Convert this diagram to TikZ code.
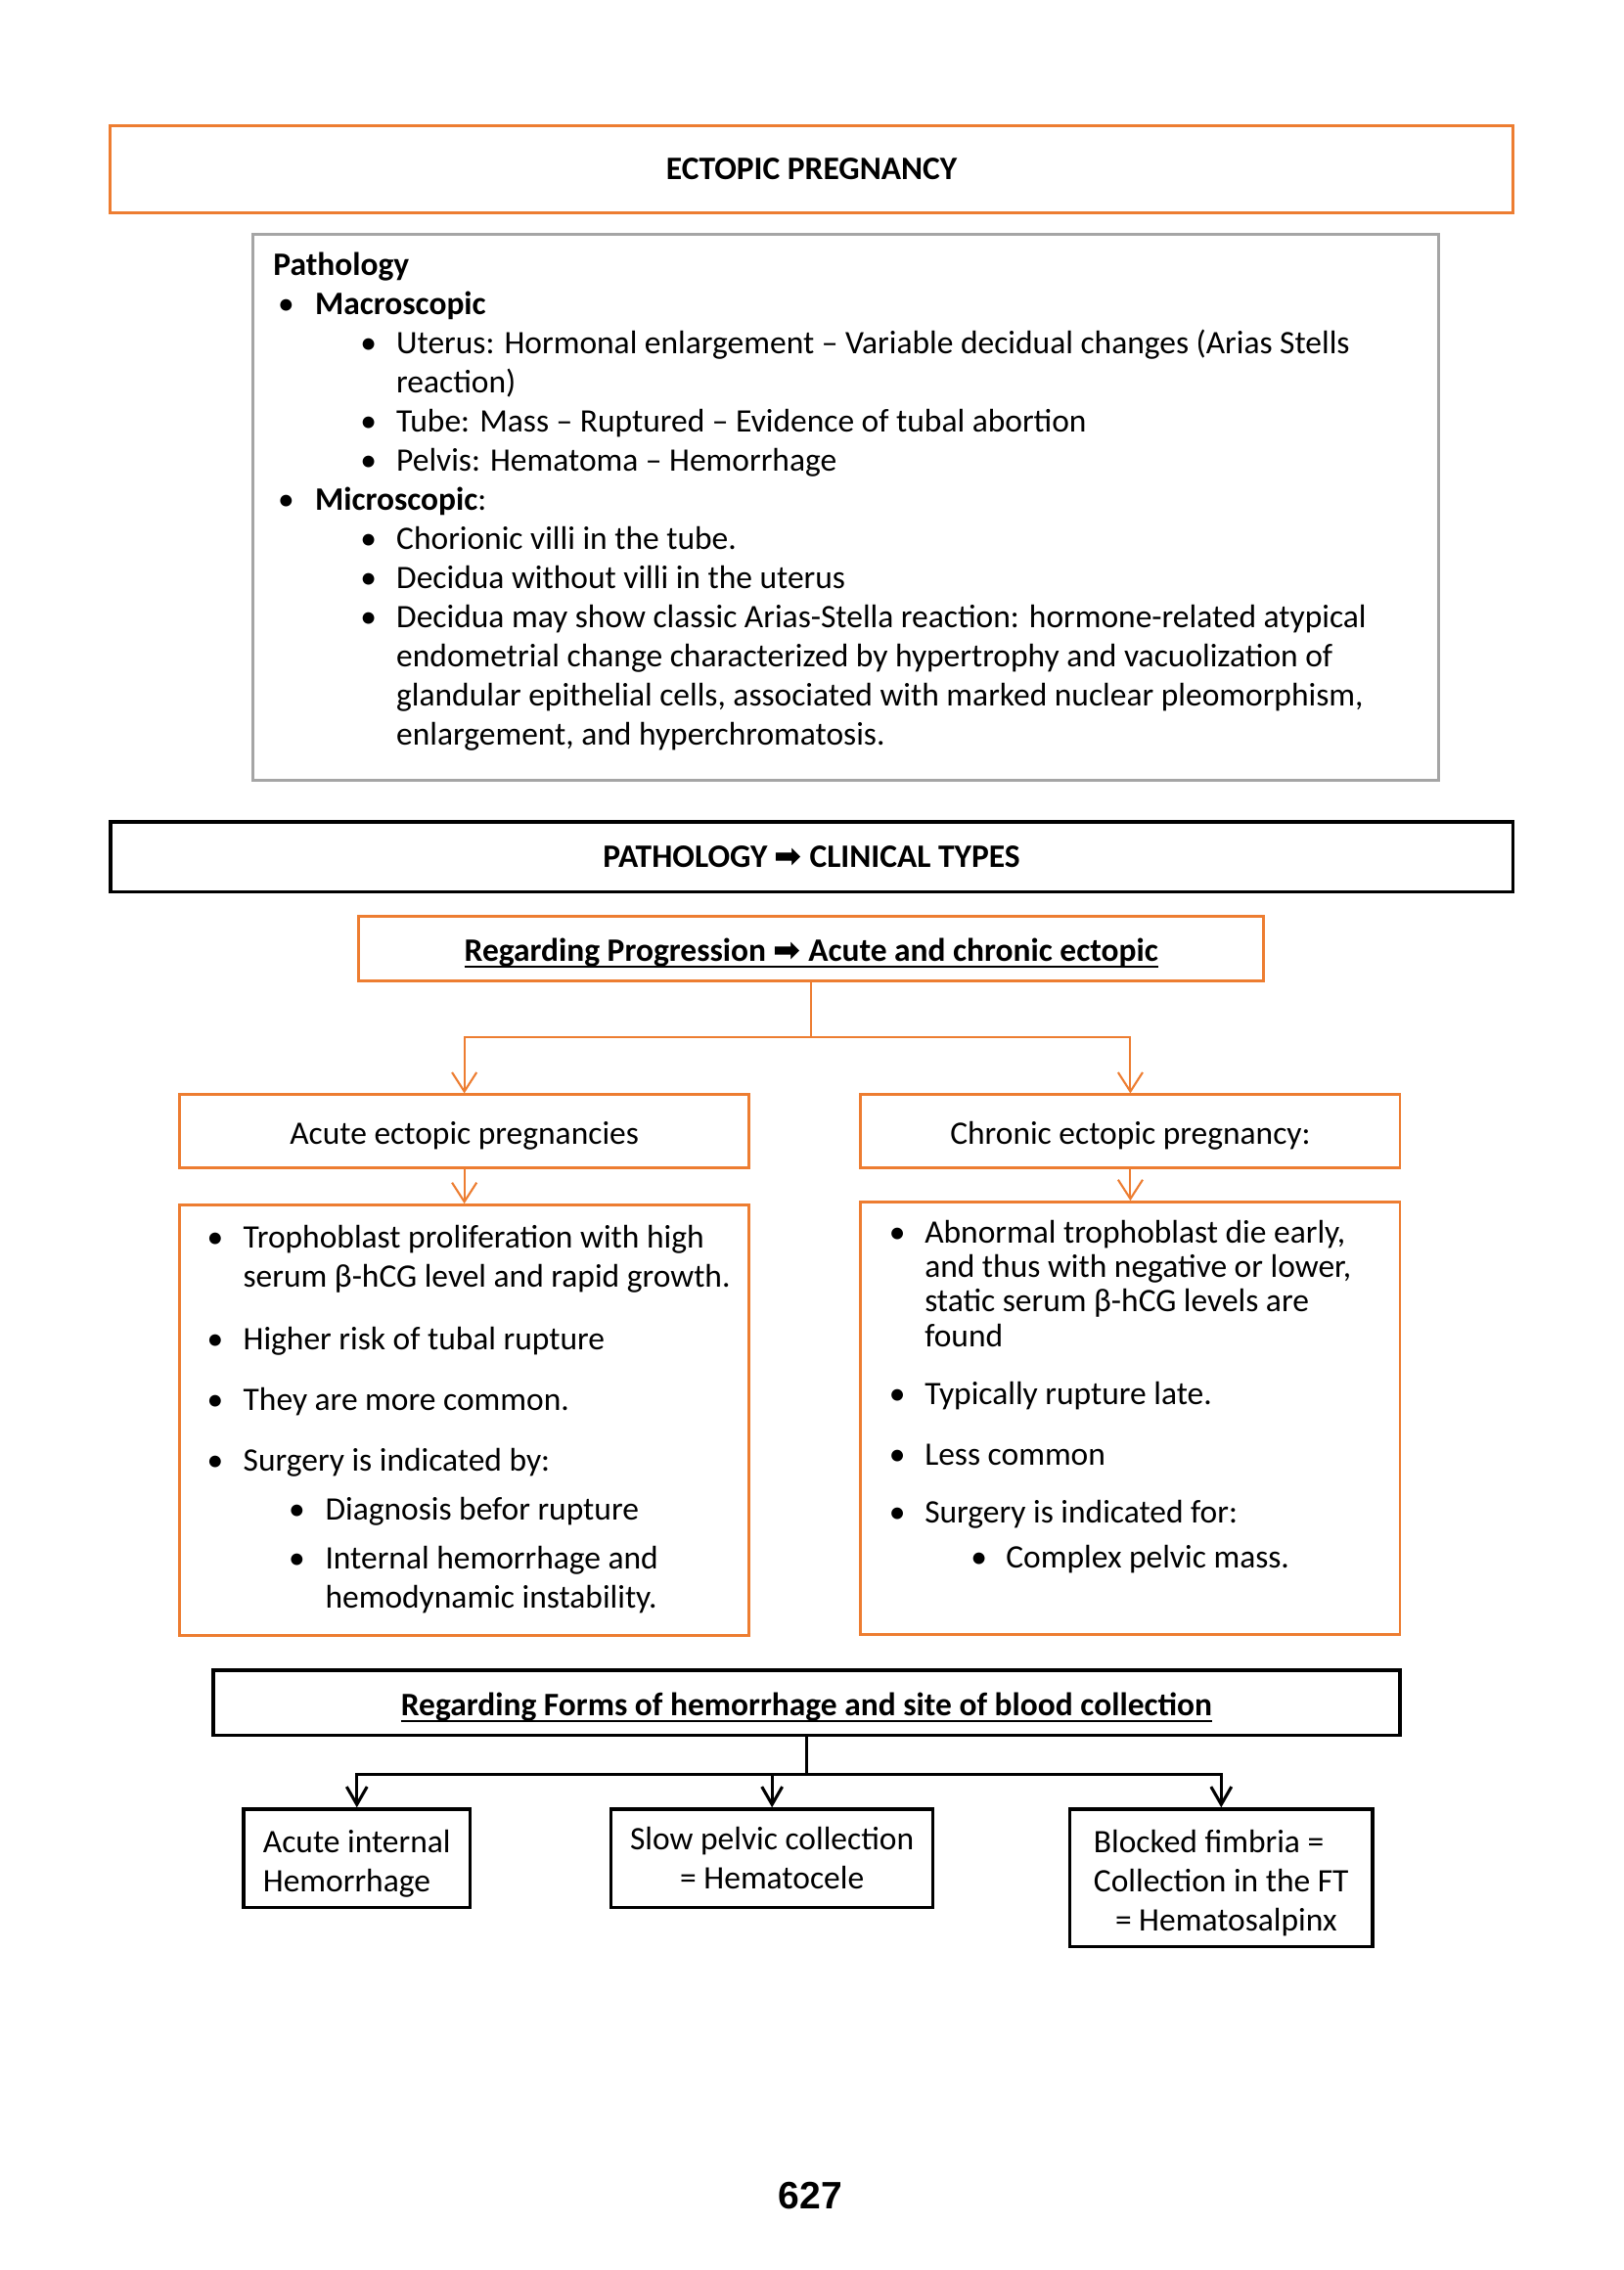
\documentclass[tikz,border=0pt]{standalone}
\usepackage{fontspec}
\setmainfont{Carlito}
\newfontfamily\arrowfont{DejaVu Sans}
\newfontfamily\numfont{Liberation Sans}
\usetikzlibrary{arrows.meta}
\definecolor{boxorange}{HTML}{ED7D31}
\definecolor{boxgray}{HTML}{A5A5A5}
\newdimen\pxu \pxu=0.5294pt
\newcommand{\bodysize}{\fontsize{12}{14.34}\selectfont}
\newcommand{\ulword}[1]{\setbox0\hbox{#1}\rlap{\rule[-2.2pt]{\wd0}{0.7pt}}\box0}
\tikzset{
  obox/.style={draw=boxorange, line width=1.07pt, inner sep=0pt, align=center, font=\bodysize},
  kbox/.style={draw=black, line width=1.2pt, inner sep=0pt, align=center, font=\bodysize},
  gbox/.style={draw=boxgray, line width=1.07pt, inner sep=0pt},
  low/.style={text height=11pt, text depth=1.5pt},
  txt/.style={anchor=base west, inner sep=0pt, align=left, font=\bodysize},
  bul/.style={anchor=base west, inner sep=0pt, font=\bodysize},
  oline/.style={draw=boxorange, line width=0.75pt},
  oarr/.style={oline, -{Straight Barb[length=7pt,width=9pt]}},
  kline/.style={draw=black, line width=1.1pt},
  karr/.style={kline, -{Straight Barb[length=6.5pt,width=7.5pt]}},
}

\begin{document}
\begin{tikzpicture}[x=0.5294pt,y=-0.5294pt]
  \path[fill=white,use as bounding box] (0,0) rectangle (1124,1571);

  % title and pathology box (multi-line nodes sit on their last baseline)
  \node[obox, minimum width=970.5\pxu, minimum height=60.9\pxu, font=\bodysize\bfseries] (title) at (561.75,117.15) {ECTOPIC PREGNANCY};
  \node[gbox, minimum width=821\pxu, minimum height=378\pxu] (gray) at (585.5,351) {};
  \node[txt, font=\bodysize\bfseries] (patho) at (188.8,190.6) {Pathology};
  \foreach \y [count=\i] in {217.7,353.2}
    \node[bul] (gb\i) at (192,\y) {•};
  \foreach \y [count=\i] in {244.8,299,326.1,380.3,407.4,434.5}
    \node[bul] (gs\i) at (249,\y) {•};
  \node[txt] (macro) at (217.7,217.7) {\textbf{Macroscopic}};
  \node[txt] (uterus) at (274,271.9) {Uterus: Hormonal enlargement – Variable decidual changes (Arias Stells\\reaction)};
  \node[txt] (tube) at (274,299) {Tube: Mass – Ruptured – Evidence of tubal abortion};
  \node[txt] (pelvis) at (274,326.1) {Pelvis: Hematoma – Hemorrhage};
  \node[txt] (micro) at (217.7,353.2) {\textbf{Microscopic}:};
  \node[txt] (villi) at (274,380.3) {Chorionic villi in the tube.};
  \node[txt] (decid) at (274,407.4) {Decidua without villi in the uterus};
  \node[txt] (arias) at (274,515.8) {Decidua may show classic Arias-Stella reaction: hormone-related atypical\\endometrial change characterized by hypertrophy and vacuolization of\\glandular epithelial cells, associated with marked nuclear pleomorphism,\\enlargement, and hyperchromatosis.};

  % clinical types
  \node[kbox, minimum width=970.5\pxu, minimum height=48.3\pxu, font=\bodysize\bfseries] (types) at (561.75,592.85) {PATHOLOGY {\arrowfont ➡} CLINICAL TYPES};
  \node[obox, low, minimum width=626\pxu, minimum height=45\pxu, font=\bodysize\bfseries] (prog) at (561.5,656.5) {\ulword{Regarding Progression {\arrowfont ➡} Acute and chronic ectopic}};
  \node[obox, low, minimum width=394\pxu, minimum height=50.3\pxu] (acute) at (321.4,782.85) {Acute ectopic pregnancies};
  \node[obox, low, minimum width=373.2\pxu, minimum height=50.3\pxu] (chronic) at (782.4,782.85) {Chronic ectopic pregnancy:};
  \node[obox, minimum width=394\pxu, minimum height=298\pxu] (acdet) at (321.4,983) {};
  \node[obox, minimum width=373.2\pxu, minimum height=299\pxu] (chdet) at (782.4,981.5) {};
  \coordinate (pj) at (561.5,718);
  \draw[oline] (prog.south) -- (pj);
  \draw[oarr] (pj) -| (acute.north);
  \draw[oarr] (pj) -| (chronic.north);
  \draw[oarr] (acute.south) -- (acdet.north);
  \draw[oarr] (chronic.south) -- (chdet.north);

  % acute list
  \foreach \y [count=\i] in {864,934,976,1018}
    \node[bul] (ab\i) at (143,\y) {•};
  \foreach \y [count=\i] in {1052,1086}
    \node[bul] (as\i) at (199.4,\y) {•};
  \node[txt, font=\fontsize{12}{14.29}\selectfont] (tropho) at (168,891) {Trophoblast proliferation with high\\serum β-hCG level and rapid growth.};
  \node[txt] (risk) at (168,934) {Higher risk of tubal rupture};
  \node[txt] (common) at (168,976) {They are more common.};
  \node[txt] (surga) at (168,1018) {Surgery is indicated by:};
  \node[txt] (diag) at (224.8,1052) {Diagnosis befor rupture};
  \node[txt, font=\fontsize{12}{14.29}\selectfont] (hemo) at (224.8,1113) {Internal hemorrhage and\\hemodynamic instability.};

  % chronic list
  \foreach \y [count=\i] in {860,972,1014,1054}
    \node[bul] (cb\i) at (615,\y) {•};
  \node[bul] (cs1) at (671.6,1085) {•};
  \node[txt, font=\fontsize{12}{12.7}\selectfont] (abn) at (639.7,932) {Abnormal trophoblast die early,\\and thus with negative or lower,\\static serum β-hCG levels are\\found};
  \node[txt] (late) at (639.7,972) {Typically rupture late.};
  \node[txt] (less) at (639.7,1014) {Less common};
  \node[txt] (surgc) at (639.7,1054) {Surgery is indicated for:};
  \node[txt] (mass) at (696,1085) {Complex pelvic mass.};

  % forms of hemorrhage
  \node[kbox, low, minimum width=821.4\pxu, minimum height=45\pxu, font=\bodysize\bfseries] (forms) at (558.3,1178.5) {\ulword{Regarding Forms of hemorrhage and site of blood collection}};
  \node[kbox, align=left, minimum width=157\pxu, minimum height=68\pxu, font=\fontsize{12}{14.3}\selectfont] (aih) at (247,1286) {\rule{0pt}{12.2pt}Acute internal\\Hemorrhage};
  \node[kbox, minimum width=222.8\pxu, minimum height=68\pxu, font=\fontsize{12}{14.3}\selectfont] (spc) at (534.4,1286) {Slow pelvic collection\\= Hematocele};
  \node[kbox, align=left, minimum width=209.4\pxu, minimum height=95\pxu, font=\fontsize{12}{14.3}\selectfont] (bfc) at (845.3,1299.5) {\rule{0pt}{12.2pt}Blocked fimbria =\\Collection in the FT\\\hspace{7.9pt}= Hematosalpinx};
  \draw[kline] (forms.south) -- ++(0,25.6) coordinate (fj);
  \draw[karr] (fj) -| (aih.north);
  \draw[karr] (fj) -| (spc.north);
  \draw[karr] (fj) -| (bfc.north);

  \node[font=\numfont\bfseries\fontsize{14}{16}\selectfont] (pnum) at (561,1519.5) {627};
\end{tikzpicture}
\end{document}
